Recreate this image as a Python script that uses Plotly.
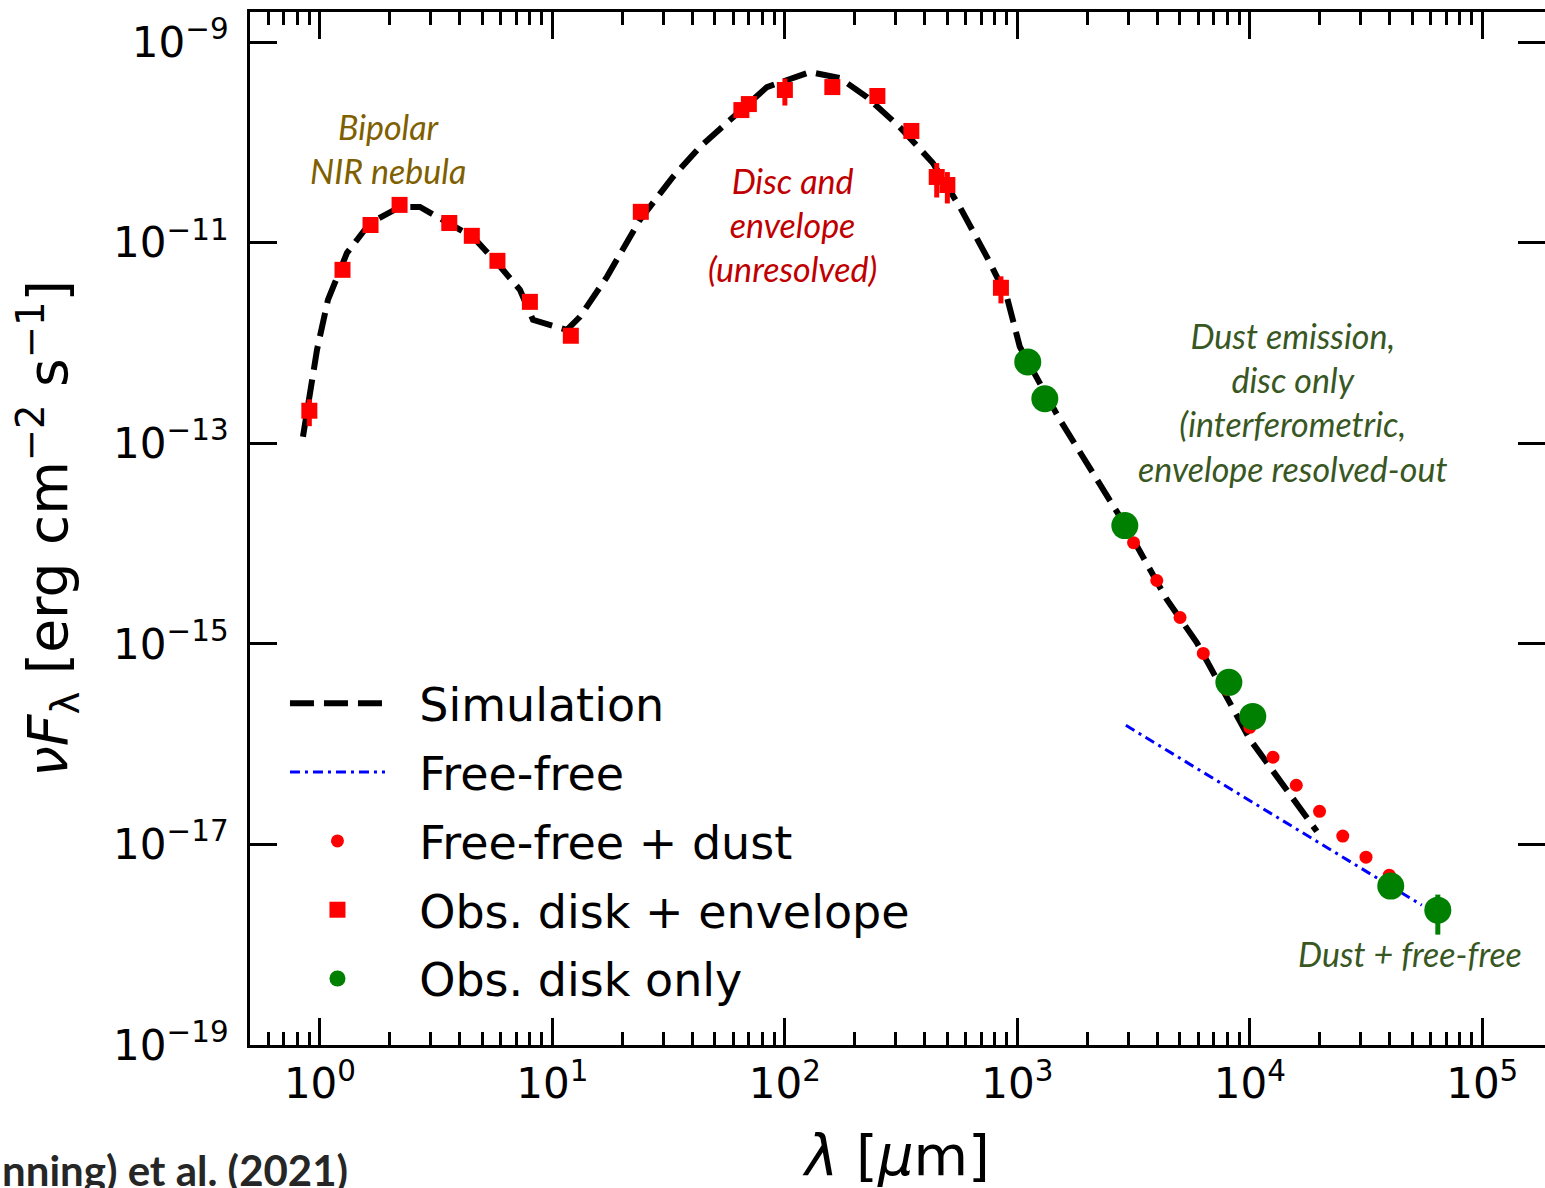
import plotly.graph_objects as go
import numpy as np

# ---------------- data ----------------
sim_wl = [0.845, 0.971, 1.082, 1.307, 1.641, 2.208, 2.692, 3.518, 4.551, 5.772, 7.249, 8.246,
          11.54, 13.13, 17.16, 23.78, 32.98, 43.1, 62.2, 83.7, 128.1, 172.4, 225.3, 312.3,
          433.0, 565.7, 739.4, 901.3, 1025, 1523, 2900, 4396, 5916, 10000, 19420]
sim_flux = [1.16e-13, 8.55e-13, 2.69e-12, 7.91e-12, 1.57e-11, 2.27e-11, 2.27e-11, 1.57e-11,
            1.14e-11, 6.29e-12, 3.39e-12, 1.70e-12, 1.35e-12, 1.82e-12, 4.56e-12, 1.69e-11,
            4.52e-11, 9.0e-11, 1.96e-10, 3.56e-10, 5.02e-10, 4.38e-10, 2.83e-10, 1.42e-10,
            6.23e-11, 2.27e-11, 7.23e-12, 2.89e-12, 9.16e-13, 1.72e-13, 1.55e-14, 2.77e-15,
            1.03e-15, 1.12e-16, 1.35e-17]

ff_wl = [2930, 54950]
ff_flux = [1.54e-16, 2.48e-18]

ffd_wl = [3162, 3981, 5012, 6310, 7943, 10000, 12589, 15849, 19953, 25119, 31623, 39811]
ffd_flux = [1.02e-14, 4.28e-15, 1.83e-15, 8.02e-16, 3.52e-16, 1.47e-16, 7.40e-17, 3.89e-17,
            2.14e-17, 1.21e-17, 7.46e-18, 4.93e-18]

env_wl = [0.9, 1.25, 1.65, 2.2, 3.6, 4.5, 5.8, 8.0, 12, 24, 65, 70, 100, 160, 250, 350, 450, 500, 850]
env_flux = [2.11e-13, 5.36e-12, 1.50e-11, 2.38e-11, 1.57e-11, 1.17e-11, 6.59e-12, 2.57e-12,
            1.18e-12, 2.03e-11, 2.10e-10, 2.41e-10, 3.33e-10, 3.56e-10, 2.90e-10, 1.30e-10,
            4.52e-11, 3.76e-11, 3.55e-12]
env_err = [6.3e-14, 5e-13, 1.5e-12, 2.4e-12, 1.6e-12, 1.2e-12, 6.6e-13, 2.6e-13,
           1.2e-13, 2.0e-12, 2.1e-11, 2.4e-11, 1.0e-10, 3.6e-11, 2.9e-11, 1.3e-11,
           1.7e-11, 1.3e-11, 1.07e-12]

disk_wl = [1109, 1313, 2900, 8128, 10300, 40400, 64400]
disk_flux = [6.47e-13, 2.78e-13, 1.51e-14, 4.13e-16, 1.89e-16, 3.84e-18, 2.21e-18]
disk_err = [0, 0, 0, 0, 0, 0, 0.95e-18]

x_tickvals = [1, 10, 100, 1000, 10000, 100000]
x_ticktext = ["10<sup>0</sup>", "10<sup>1</sup>", "10<sup>2</sup>", "10<sup>3</sup>",
              "10<sup>4</sup>", "10<sup>5</sup>"]
y_tickvals = [1e-19, 1e-17, 1e-15, 1e-13, 1e-11, 1e-9]
y_ticktext = ["10<sup>\u221219</sup>", "10<sup>\u221217</sup>", "10<sup>\u221215</sup>",
              "10<sup>\u221213</sup>", "10<sup>\u221211</sup>", "10<sup>\u22129</sup>"]

legend_names = ["Simulation", "Free-free", "Free-free + dust", "Obs. disk + envelope", "Obs. disk only"]

ann_bipolar = "Bipolar<br>NIR nebula"
ann_disc = "Disc and<br>envelope<br>(unresolved)"
ann_dust = "Dust emission,<br>disc only<br>(interferometric,<br>envelope resolved-out"
ann_dff = "Dust + free-free"
citation = "nning) et al. (2021)"

# ---------------- figure ----------------
pad = "\u00a0\u00a0"  # gap between legend glyph and label
fig = go.Figure()

fig.add_trace(go.Scatter(x=sim_wl, y=sim_flux, mode="lines", name=pad + legend_names[0],
                         legendgroup="g0",
                         line=dict(color="black", width=6, dash="24px,10px")))
fig.add_trace(go.Scatter(x=ff_wl, y=ff_flux, mode="lines", name=pad + legend_names[1],
                         legendgroup="g1",
                         line=dict(color="#0000ff", width=3, dash="10px,5px,3px,5px")))
fig.add_trace(go.Scatter(x=ffd_wl, y=ffd_flux, mode="markers", name=pad + legend_names[2],
                         legendgroup="g2",
                         marker=dict(color="#ff0000", size=13, symbol="circle")))
fig.add_trace(go.Scatter(x=env_wl, y=env_flux, mode="markers", name=pad + legend_names[3],
                         legendgroup="g3",
                         marker=dict(color="#ff0000", size=16, symbol="square"),
                         error_y=dict(type="data", array=env_err, color="#ff0000",
                                      thickness=5, width=0)))
fig.add_trace(go.Scatter(x=disk_wl, y=disk_flux, mode="markers", name=pad + legend_names[4],
                         legendgroup="g4",
                         marker=dict(color="#008000", size=27, symbol="circle"),
                         error_y=dict(type="data", array=disk_err, color="#008000",
                                      thickness=5, width=0)))

ann_font = dict(family="Lato", size=34, style="italic")
fig.add_annotation(x=np.log10(1.96), y=-10.06, text=ann_bipolar, showarrow=False,
                   font=dict(ann_font, color="#7f6000"), align="center")
fig.add_annotation(x=np.log10(108), y=-10.82, text=ann_disc, showarrow=False,
                   font=dict(ann_font, color="#c00000"), align="center")
fig.add_annotation(x=np.log10(15200), y=-12.59, text=ann_dust, showarrow=False,
                   font=dict(ann_font, color="#385723"), align="center")
fig.add_annotation(x=np.log10(48700), y=-18.09, text=ann_dff, showarrow=False,
                   font=dict(ann_font, color="#385723"), align="center")
fig.add_annotation(xref="paper", yref="paper", x=-0.193, y=-0.121, xanchor="left",
                   yanchor="middle", text="<b>" + citation + "</b>", showarrow=False,
                   font=dict(family="Lato", size=42, color="#262626"))

axis_common = dict(showline=True, linecolor="black", linewidth=3, mirror="ticks",
                   ticks="inside", ticklen=27, tickwidth=3, tickcolor="black",
                   showgrid=False, zeroline=False,
                   tickfont=dict(family="DejaVu Sans", size=42, color="black"))

fig.update_xaxes(type="log", range=[np.log10(0.5), 5.27], tickvals=x_tickvals,
                 ticktext=x_ticktext,
                 minor=dict(ticks="inside", ticklen=13, tickwidth=2.5, tickcolor="black",
                            dtick="D1", showgrid=False),
                 title=dict(text="<i>\u03bb</i> [<i>\u03bc</i>m]",
                            font=dict(family="DejaVu Sans", size=56, color="black"),
                            standoff=30),
                 **axis_common)
fig.update_yaxes(type="log", range=[-19.0, -8.70], tickvals=y_tickvals, ticktext=y_ticktext,
                 ticklabelstandoff=10,
                 title=dict(text="<i>\u03bdF</i><sub>\u03bb</sub> [erg cm<sup>\u22122</sup> s<sup>\u22121</sup>]",
                            font=dict(family="DejaVu Sans", size=55, color="black"),
                            standoff=28),
                 **axis_common)

fig.update_layout(
    width=1545, height=1188,
    margin=dict(l=250, r=0, t=12, b=143, autoexpand=False),
    paper_bgcolor="white", plot_bgcolor="white",
    showlegend=True,
    legend=dict(x=0.027, y=0.366, xanchor="left", yanchor="top",
                font=dict(family="DejaVu Sans", size=46, color="black"),
                bgcolor="rgba(0,0,0,0)", itemwidth=95, tracegroupgap=6),
)

fig.write_html("out.html")
